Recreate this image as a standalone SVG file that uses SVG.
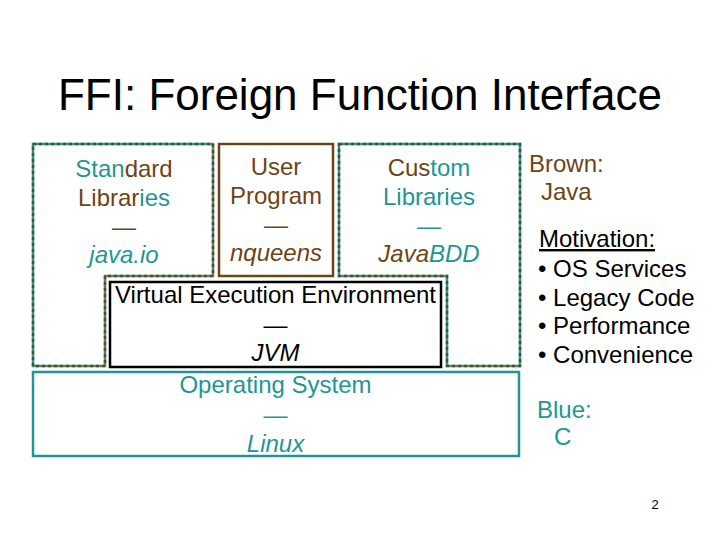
<svg xmlns="http://www.w3.org/2000/svg" width="720" height="540" viewBox="0 0 720 540">
<style>
text{font-family:"Liberation Sans",Arial,sans-serif;}
.b{font-size:24px;text-anchor:middle;}
.r{font-size:24px;}
.t{fill:#1f9694;}
.w{fill:#6e4416;}
.k{fill:#000;}
.i{font-style:italic;}
.base{fill:none;stroke:#1f9694;stroke-width:2.5;}
.dash{fill:none;stroke:#6e4416;stroke-width:2.5;stroke-dasharray:3 3;}
</style>
<rect width="720" height="540" fill="#fff"/>
<text x="360" y="110" font-size="44" text-anchor="middle" fill="#000">FFI: Foreign Function Interface</text>

<g id="standard-libraries">
<polygon class="base" points="33,144 213,144 213,276 105,276 105,366 33,366"/>
<polygon class="dash" points="33,144 213,144 213,276 105,276 105,366 33,366"/>
<text class="b" x="124" y="177"><tspan class="t">Stan</tspan><tspan class="w">dard</tspan></text>
<text class="b" x="124" y="206"><tspan class="w">Librar</tspan><tspan class="t">ies</tspan></text>
<text class="b w" x="124" y="235">—</text>
<text class="b t i" x="124" y="263">java.io</text>
</g>

<g id="user-program">
<rect x="219" y="144" width="114" height="132" fill="none" stroke="#6e4416" stroke-width="2.5"/>
<text class="b w" x="276" y="175">User</text>
<text class="b w" x="276" y="204">Program</text>
<text class="b w" x="276" y="233">—</text>
<text class="b w i" x="276" y="261">nqueens</text>
</g>

<g id="custom-libraries">
<polygon class="base" points="339,144 520,144 520,366 447,366 447,276 339,276"/>
<polygon class="dash" points="339,144 520,144 520,366 447,366 447,276 339,276"/>
<text class="b" x="429" y="176"><tspan class="w">Cus</tspan><tspan class="t">tom</tspan></text>
<text class="b t" x="429" y="205">Libraries</text>
<text class="b t" x="429" y="234">—</text>
<text class="b i" x="429" y="262"><tspan class="w">Java</tspan><tspan class="t">BDD</tspan></text>
</g>

<g id="jvm">
<rect x="110" y="282" width="331" height="85" fill="#fff" stroke="#000" stroke-width="2.5"/>
<text class="b k" x="275.5" y="303">Virtual Execution Environment</text>
<text class="b k" x="275.5" y="333">—</text>
<text class="b k i" x="275.5" y="361">JVM</text>
</g>

<g id="operating-system">
<rect x="33" y="372" width="486" height="84" fill="none" stroke="#1f9694" stroke-width="2.5"/>
<text class="b t" x="275.5" y="393">Operating System</text>
<text class="b t" x="275.5" y="423">—</text>
<text class="b t i" x="275.5" y="452">Linux</text>
</g>

<g id="legend">
<text class="r w" x="529" y="172">Brown:</text>
<text class="r w" x="541" y="200">Java</text>
<text class="r k" x="539" y="247" text-decoration="underline">Motivation:</text>
<text class="r k" x="538" y="277">• OS Services</text>
<text class="r k" x="538" y="306">• Legacy Code</text>
<text class="r k" x="538" y="334">• Performance</text>
<text class="r k" x="538" y="363">• Convenience</text>
<text class="r t" x="537" y="418">Blue:</text>
<text class="r t" x="554" y="445">C</text>
</g>

<text x="655" y="509" font-size="13" text-anchor="middle" fill="#000">2</text>
</svg>
